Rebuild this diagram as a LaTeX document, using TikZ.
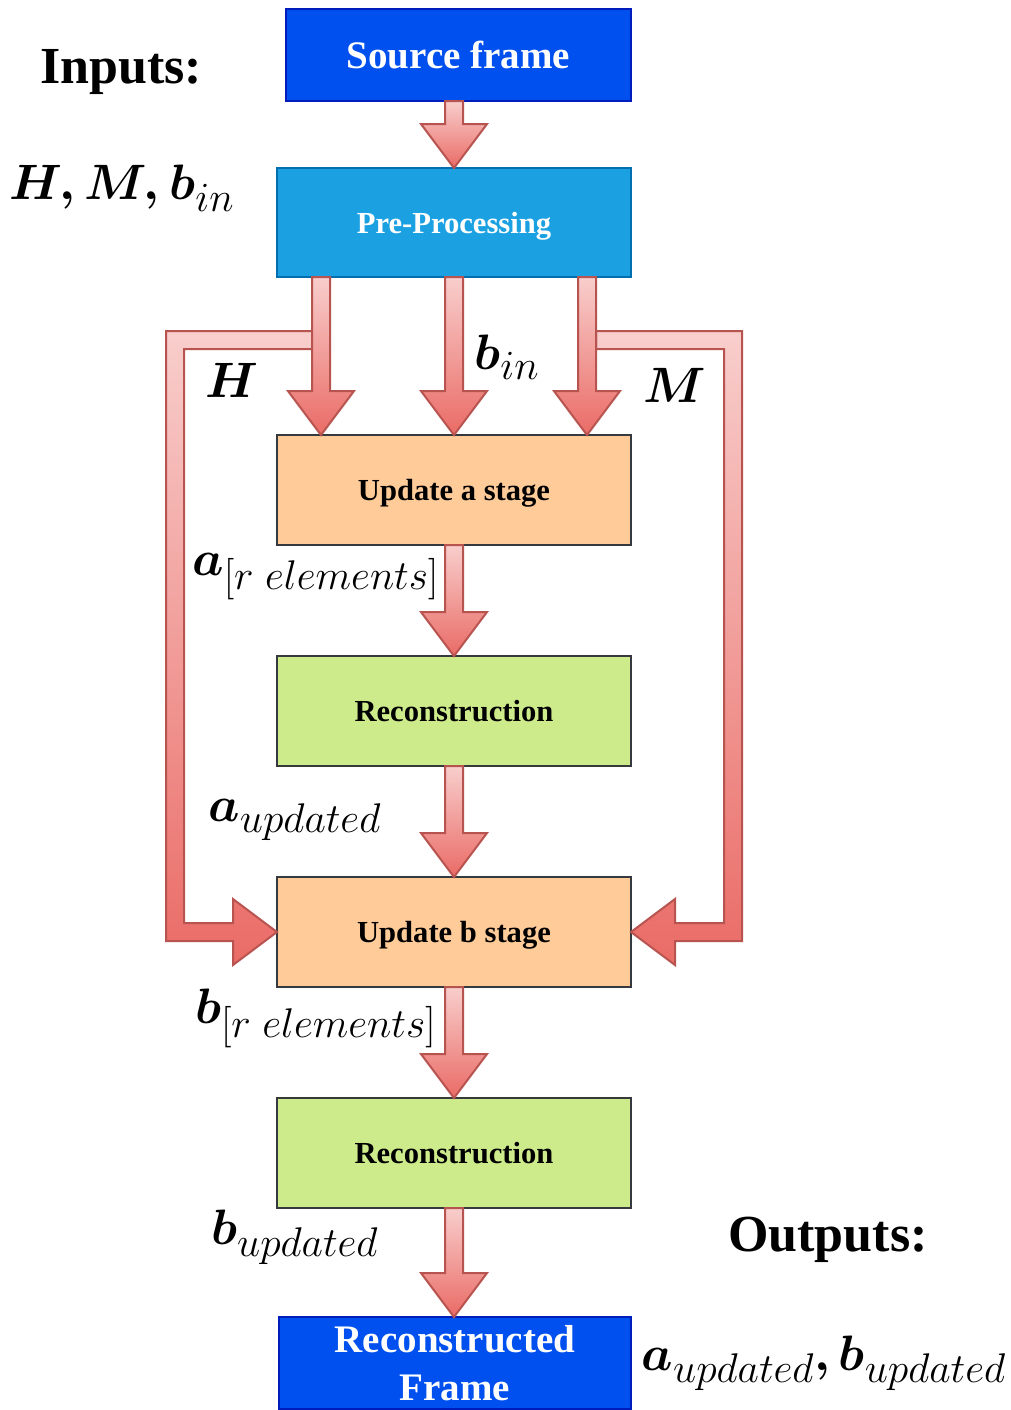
\documentclass[tikz,border=0pt]{standalone}
\usepackage{amsmath}
\usepackage{fontspec}
\setmainfont{Liberation Serif}
\usetikzlibrary{positioning, calc}

\definecolor{srcblue}{HTML}{0050EF}
\definecolor{srcline}{HTML}{001DBC}
\definecolor{preblue}{HTML}{1BA1E2}
\definecolor{preline}{HTML}{006EAF}
\definecolor{peach}{HTML}{FFCC99}
\definecolor{lime}{HTML}{CDEB8B}
\definecolor{boxline}{HTML}{36393D}
\definecolor{arrowtop}{HTML}{F8CECC}
\definecolor{arrowbot}{HTML}{EA6B66}
\definecolor{arrowline}{HTML}{B85450}

% block arrow pointing down: #1 start point, #2 anchor of the target
\newcommand{\fatdown}[2]{%
    \shadedraw[fatarrow] ($(#1)+(-9,0)$) -- ($(#1 |- #2)+(-9,-44)$) -- ($(#1 |- #2)+(-33,-44)$)
        -- (#1 |- #2) -- ($(#1 |- #2)+(33,-44)$) -- ($(#1 |- #2)+(9,-44)$) -- ($(#1)+(9,0)$) -- cycle;}
\newcommand{\bs}[1]{\boldsymbol{#1}}

\begin{document}
\begin{tikzpicture}[
        x=0.5pt, y=-0.5pt,
        stage/.style={
            rectangle,
            draw=boxline,
            line width=1pt,
            outer sep=0pt,
            minimum width=177pt,
            minimum height=55pt,
            text depth=0pt,
            align=center,
            font=\fontsize{15.3}{18}\selectfont\bfseries
        },
        framebox/.style={
            stage,
            fill=srcblue,
            draw=srcline,
            text=white,
            minimum height=46pt,
            font=\fontsize{19.5}{24}\selectfont\bfseries
        },
        fatarrow/.style={
            draw=arrowline,
            line width=1pt,
            top color=arrowtop,
            bottom color=arrowbot
        },
        lbl/.style={font=\fontsize{31}{36}\selectfont},
        heading/.style={font=\fontsize{26}{30}\selectfont\bfseries}
    ]
    \useasboundingbox (0,0) rectangle (1011,1410);

    % Stages (top to bottom)
    \node[stage, fill=preblue, draw=preline, text=white, minimum height=54.5pt] (pre) at (454,222.5) {Pre-Processing};
    \node[framebox, minimum width=172.5pt, above=33.5pt of pre, xshift=2.25pt] (src) {Source frame};
    \node[stage, fill=peach, below=79pt of pre] (upda) {Update a stage};
    \node[stage, fill=lime, below=55.5pt of upda] (rec1) {Reconstruction};
    \node[stage, fill=peach, below=55.5pt of rec1] (updb) {Update b stage};
    \node[stage, fill=lime, below=55.5pt of updb] (rec2) {Reconstruction};
    \node[framebox, minimum width=176pt, below=54.5pt of rec2, xshift=0.5pt] (out) {Reconstructed\\Frame};

    % Start points of the arrows
    \coordinate (s0) at (pre.north |- src.south);
    \coordinate (h1) at ($(pre.south)+(-133,0)$);
    \coordinate (h2) at (pre.south);
    \coordinate (h3) at ($(pre.south)+(133,0)$);
    \coordinate (hc) at ($(updb.west)+(-102,0)$);
    \coordinate (mc) at ($(updb.east)+(102,0)$);

    % Side arrows (H and M)
    \shadedraw[fatarrow] ($(h1)+(-9,54)$) -- ($(hc |- h1)+(-9,54)$) -- ($(hc)+(-9,9)$)
        -- ($(updb.west)+(-44,9)$) -- ($(updb.west)+(-44,33)$) -- (updb.west)
        -- ($(updb.west)+(-44,-33)$) -- ($(updb.west)+(-44,-9)$) -- ($(hc)+(9,-9)$)
        -- ($(hc |- h1)+(9,72)$) -- ($(h1)+(-9,72)$) -- cycle;
    \shadedraw[fatarrow] ($(h3)+(9,54)$) -- ($(mc |- h3)+(9,54)$) -- ($(mc)+(9,9)$)
        -- ($(updb.east)+(44,9)$) -- ($(updb.east)+(44,33)$) -- (updb.east)
        -- ($(updb.east)+(44,-33)$) -- ($(updb.east)+(44,-9)$) -- ($(mc)+(-9,-9)$)
        -- ($(mc |- h3)+(-9,72)$) -- ($(h3)+(9,72)$) -- cycle;

    % Arrows
    \fatdown{s0}{pre.north}
    \fatdown{h1}{upda.north}
    \fatdown{h2}{upda.north}
    \fatdown{h3}{upda.north}
    \fatdown{upda.south}{rec1.north}
    \fatdown{rec1.south}{updb.north}
    \fatdown{updb.south}{rec2.north}
    \fatdown{rec2.south}{out.north}

    % Labels
    \node[heading] (inputs) at (121,72) {Inputs:};
    \node[lbl] (inlist) at (122,188) {$\bs{H, M, b}_{in}$};
    \node[lbl] (hlbl) at (232,380) {$\bs{H}$};
    \node[lbl] (blbl) at (507,357) {$\bs{b}_{in}$};
    \node[lbl] (mlbl) at (675,385) {$\bs{M}$};
    \node[lbl] (alist) at (316,577) {$\bs{a}_{[r\;elements]}$};
    \node[lbl] (aupd) at (295,820) {$\bs{a}_{updated}$};
    \node[lbl] (blist) at (316,1018) {$\bs{b}_{[r\;elements]}$};
    \node[lbl] (bupd) at (295,1237) {$\bs{b}_{updated}$};
    \node[heading] (outputs) at (828,1240) {Outputs:};
    \node[lbl] (outlist) at (824,1363) {$\bs{a}_{updated}\bs{,}\, \bs{b}_{updated}$};

\end{tikzpicture}
\end{document}
